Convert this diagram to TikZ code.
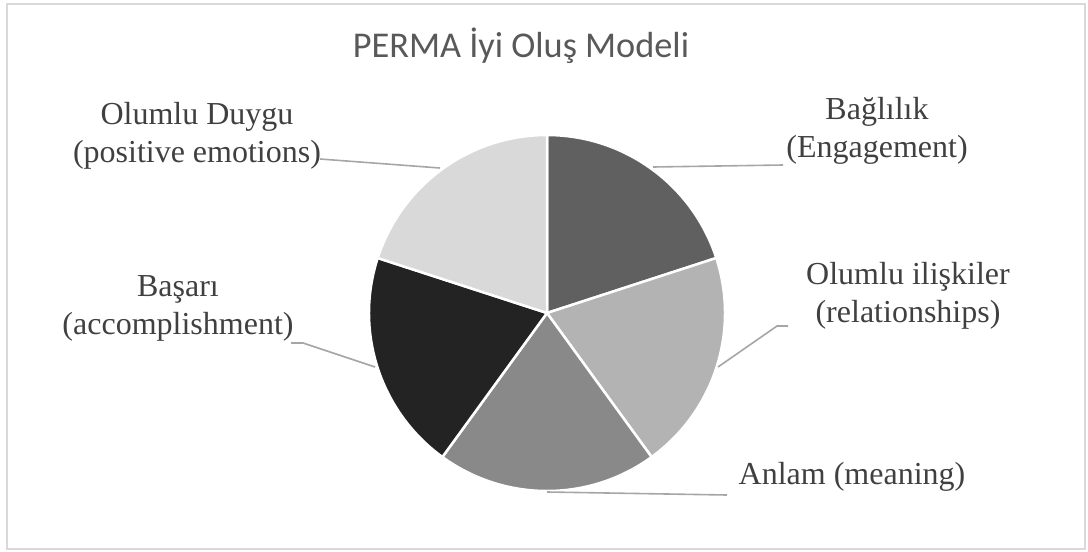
\documentclass[tikz,border=0pt]{standalone}
\usepackage{fontspec}
\setmainfont{Liberation Serif}
\newfontfamily\titlefont{Carlito}
\definecolor{txtgray}{HTML}{404040}
\definecolor{titlegray}{HTML}{595959}
\definecolor{framegray}{HTML}{D9D9D9}
\definecolor{leadgray}{HTML}{A6A6A6}
\definecolor{bagcol}{HTML}{606060}
\definecolor{iliskicol}{HTML}{B3B3B3}
\definecolor{anlamcol}{HTML}{898989}
\definecolor{basaricol}{HTML}{232323}
\definecolor{duygucol}{HTML}{D9D9D9}
\begin{document}
\begin{tikzpicture}[x=1pt,y=-1pt,
  lbl/.style={align=center,text=txtgray,inner sep=0pt,font=\fontsize{32}{38}\selectfont},
  leader/.style={draw=leadgray,line width=1.6pt},
  slice/.style={draw=white,line width=2.5pt,line join=round}]
\useasboundingbox (0,0) rectangle (1088,552);
\draw[framegray,line width=2pt] (7,4) rectangle (1085,549);
\node[text=titlegray,font=\titlefont\fontsize{36.3}{40}\selectfont] at (521,46) (title) {PERMA İyi Oluş Modeli};
\coordinate (c) at (547,313);
\filldraw[slice,fill=bagcol] (c) -- ++(90:178pt) arc[start angle=90,end angle=18,radius=178pt] -- cycle;
\filldraw[slice,fill=iliskicol] (c) -- ++(18:178pt) arc[start angle=18,end angle=-54,radius=178pt] -- cycle;
\filldraw[slice,fill=anlamcol] (c) -- ++(-54:178pt) arc[start angle=-54,end angle=-126,radius=178pt] -- cycle;
\filldraw[slice,fill=basaricol] (c) -- ++(-126:178pt) arc[start angle=-126,end angle=-198,radius=178pt] -- cycle;
\filldraw[slice,fill=duygucol] (c) -- ++(162:178pt) arc[start angle=162,end angle=90,radius=178pt] -- cycle;
\node[lbl] at (197,136) (duygu) {Olumlu Duygu\\(positive emotions)};
\node[lbl] at (877,131) (bag) {Bağlılık\\(Engagement)};
\node[lbl] at (178,308) (basari) {Başarı\\(accomplishment)};
\node[lbl] at (908,296) (iliski) {Olumlu ilişkiler\\(relationships)};
\node[lbl] at (852,477) (anlam) {Anlam (meaning)};
\coordinate (duygu-l) at (320,159);
\coordinate (duygu-p) at (440,168);
\coordinate (bag-l) at (783,165);
\coordinate (bag-p) at (653,167);
\coordinate (basari-l) at (291,343);
\coordinate (basari-k) at (303,343);
\coordinate (basari-p) at (375,367);
\coordinate (iliski-l) at (788,326);
\coordinate (iliski-k) at (777,326);
\coordinate (iliski-p) at (718,367);
\coordinate (anlam-l) at (727,495);
\coordinate (anlam-p) at (547,492);
\draw[leader] (duygu-l) -- (duygu-p);
\draw[leader] (bag-l) -- (bag-p);
\draw[leader] (basari-l) -- (basari-k) -- (basari-p);
\draw[leader] (iliski-l) -- (iliski-k) -- (iliski-p);
\draw[leader] (anlam-l) -- (anlam-p);
\end{tikzpicture}
\end{document}
